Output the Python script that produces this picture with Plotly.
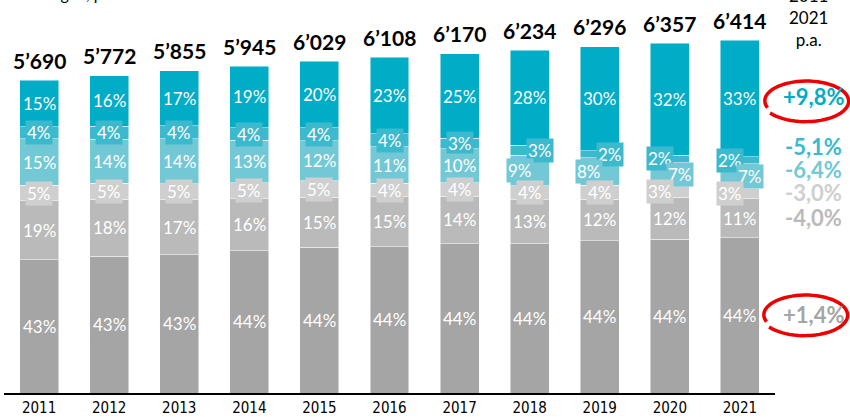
import plotly.graph_objects as go
import math

# ---------------- data ----------------
years = ["2011", "2012", "2013", "2014", "2015", "2016", "2017", "2018", "2019", "2020", "2021"]
totals = [5690, 5772, 5855, 5945, 6029, 6108, 6170, 6234, 6296, 6357, 6414]
total_labels = ["5’690", "5’772", "5’855", "5’945", "6’029", "6’108", "6’170", "6’234", "6’296", "6’357", "6’414"]

# shares in % (bottom -> top)
share_a = [43, 43, 43, 44, 44, 44, 44, 44, 44, 44, 44]
share_b = [19, 18, 17, 16, 15, 15, 14, 13, 12, 12, 11]
share_c = [5, 5, 5, 5, 5, 4, 4, 4, 4, 3, 3]
share_d = [15, 14, 14, 13, 12, 11, 10, 9, 8, 7, 7]
share_e = [4, 4, 4, 4, 4, 4, 3, 3, 2, 2, 2]
share_f = [15, 16, 17, 19, 20, 23, 25, 28, 30, 32, 33]

cagr_labels = ["+1,4%", "-4,0%", "-3,0%", "-6,4%", "-5,1%", "+9,8%"]  # bottom -> top
header_text = "2011<br>2021<br>p.a."
corner_text = "Leistungen, pro Jahr"

# ---------------- style ----------------
colors = ["#A5A5A5", "#BABABA", "#CFCFCF", "#73C8D5", "#3CB9CD", "#00ACC6"]
# horizontal label shifts (px) for crowded small segments
xshift_d = [0, 0, 0, 0, 0, 0, 0, -10, -11, 10, 10]
xshift_e = [0, 0, 0, 0, 0, 0, 0, 10, 10, -10, -10]
xshift_c = [0, 0, 0, 0, 0, 0, 0, 0, 0, -10, -10]
zero = [0] * 11
xshifts = [zero, zero, xshift_c, xshift_d, xshift_e, zero]
cagr_ypx = [314, 218, 192, 169, 146, 97]

FONT = "Lato, 'Open Sans', sans-serif"
W, H = 850, 417
L, R, T, B = 4, 75, 8, 24
YMAX = 7000

def px2xp(px):
    return (px - L) / (W - L - R)

def px2yp(py):
    return (H - B - py) / (H - T - B)

shares = [share_a, share_b, share_c, share_d, share_e, share_f]

fig = go.Figure()
seg_labels = []
cum = [0.0] * len(years)
for k, sh in enumerate(shares):
    vals = []
    for j in range(len(years)):
        s = sum(shares[m][j] for m in range(len(shares)))
        vals.append(totals[j] * sh[j] / s)
    fig.add_trace(go.Bar(
        x=years, y=vals, marker=dict(color=colors[k], line=dict(color="rgba(255,255,255,0.6)", width=0.8)),
        hoverinfo="skip", showlegend=False,
    ))
    for j in range(len(years)):
        seg_labels.append(dict(
            x=j, y=cum[j] + vals[j] / 2, xref="x", yref="y",
            text=f"{sh[j]}%", showarrow=False, xshift=xshifts[k][j],
            xanchor="center", yanchor="middle",
            font=dict(family=FONT, size=17, color="white"),
            bgcolor=colors[k], borderpad=1,
        ))
        cum[j] += vals[j]

# draw upper segment labels first so lower boxes sit on top
annotations = []
n = len(years)
for k in reversed(range(len(shares))):
    annotations.extend(seg_labels[k * n:(k + 1) * n])

for j in range(len(years)):
    annotations.append(dict(
        x=j, y=totals[j], xref="x", yref="y", text=f"<b>{total_labels[j]}</b>",
        showarrow=False, xanchor="center", yanchor="middle", yshift=20,
        font=dict(family=FONT, size=21, color="black"),
    ))

for k, t in enumerate(cagr_labels):
    annotations.append(dict(
        x=px2xp(813), y=px2yp(cagr_ypx[k]), xref="paper", yref="paper",
        text=f"<b>{t}</b>", showarrow=False, xanchor="center", yanchor="middle",
        font=dict(family=FONT, size=22, color=colors[k]),
    ))

annotations.append(dict(
    x=px2xp(808), y=px2yp(17), xref="paper", yref="paper", text=header_text,
    showarrow=False, xanchor="center", yanchor="middle",
    font=dict(family=FONT, size=17, color="black"),
))
annotations.append(dict(
    x=px2xp(8), y=px2yp(5), xref="paper", yref="paper", text=corner_text,
    showarrow=False, xanchor="left", yanchor="bottom", font=dict(family=FONT, size=16, color="black"),
))


def scribble(cx, cy, rx, ry):
    pts = []
    m = 60
    t0 = math.radians(200)
    span = math.radians(345)
    for i in range(m + 1):
        f = i / m
        t = t0 - span * f
        g = 1.0 + 0.07 * f
        x = cx + rx * g * math.cos(t)
        y = cy - ry * g * math.sin(t)
        pts.append((px2xp(x), px2yp(y)))
    return "M " + " L ".join(f"{a:.5f},{b:.5f}" for a, b in pts)

shapes = [
    dict(type="path", path=scribble(806, 101, 41, 19.5), xref="paper", yref="paper",
         line=dict(color="#EE0000", width=3.5), layer="below"),
    dict(type="path", path=scribble(805, 315, 41, 19.5), xref="paper", yref="paper",
         line=dict(color="#EE0000", width=3.5), layer="below"),
]

fig.update_layout(
    width=W, height=H, barmode="stack", bargap=0.444,
    margin=dict(l=L, r=R, t=T, b=B),
    paper_bgcolor="white", plot_bgcolor="rgba(0,0,0,0)",
    annotations=annotations, shapes=shapes, showlegend=False,
    xaxis=dict(type="category", range=[-0.5, 10.5], showline=True, linecolor="black", linewidth=2,
               ticks="", showgrid=False,
               tickfont=dict(family="'Liberation Sans Narrow', 'DejaVu Sans Condensed', sans-serif", size=15, color="black"),
               automargin=False, fixedrange=True),
    yaxis=dict(range=[0, YMAX], visible=False, showgrid=False, zeroline=False, fixedrange=True),
    hovermode=False,
)

fig.write_html("out.html", config={"displayModeBar": False},
               post_script="document.body.style.margin='0';document.body.style.overflow='hidden';")
